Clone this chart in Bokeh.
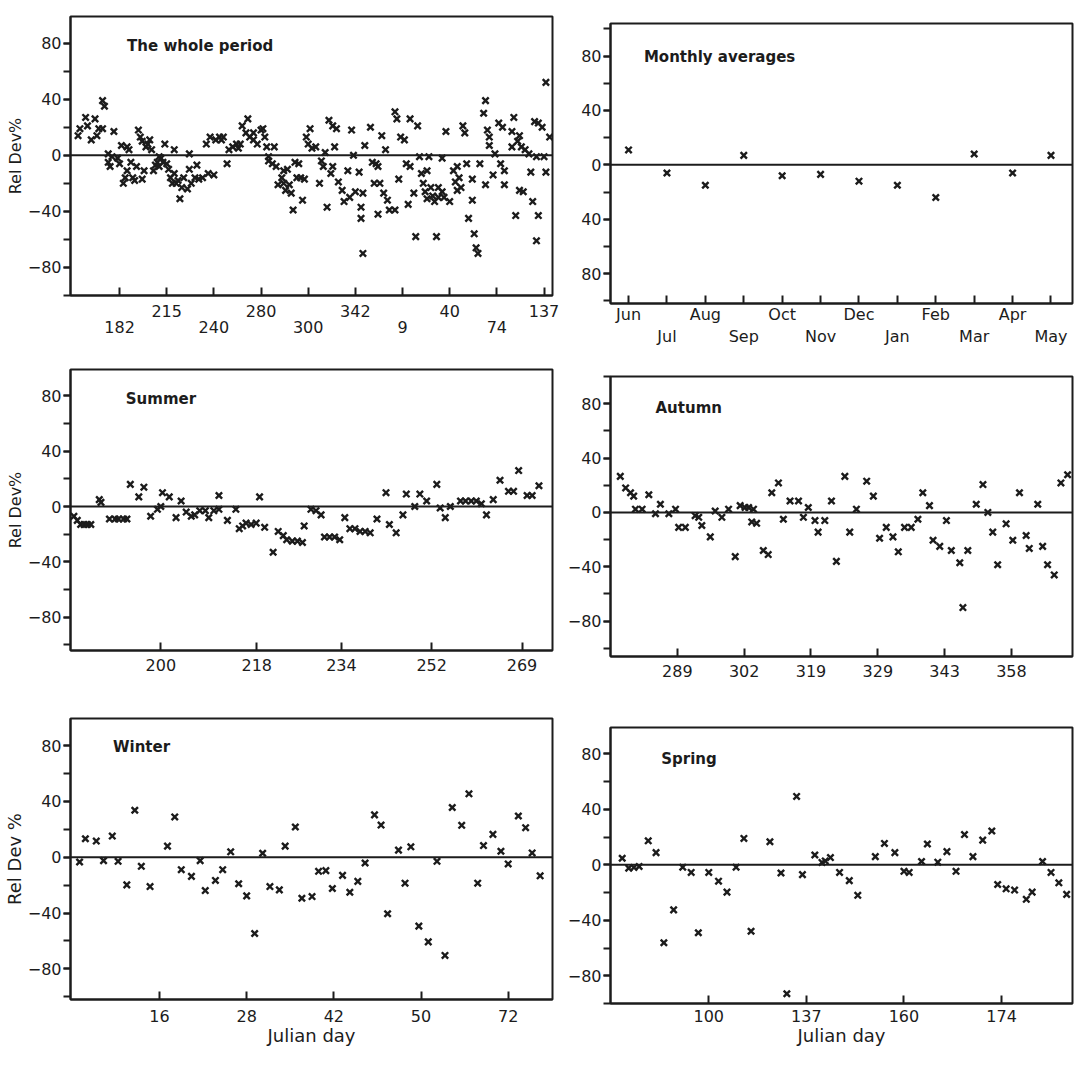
from bokeh.plotting import figure
from bokeh.models import Range1d, FixedTicker, SingleIntervalTicker, LinearAxis, Span, Label
from bokeh.layouts import column, row
from bokeh.embed import file_html
from bokeh.resources import INLINE

FONT = "DejaVu Sans"
INK = "#1c1c1c"

# ---------------- data ----------------
# The whole period (observation number, relative deviation %)
whole_x = [3, 4, 7, 8, 10, 12, 13, 14, 16, 17, 16, 19, 19, 20, 22, 21, 24, 25, 26, 27,
           28, 29, 29, 30, 31, 32, 33, 34, 35, 36, 37, 37, 38, 39, 40, 41, 42, 43, 44, 45,
           46, 46, 47, 48, 49, 50, 51, 52, 53, 54, 54, 55, 56, 57, 58, 59, 61, 62, 62, 63,
           65, 66, 67, 69, 71, 72, 73, 75, 76, 78, 79, 80, 82, 83, 85, 87, 88, 89, 90, 92,
           93, 94, 96, 96, 98, 100, 101, 102, 103, 104, 104, 106, 107, 108, 109, 111, 112, 112, 113, 114,
           115, 116, 117, 118, 119, 120, 121, 122, 123, 124, 125, 126, 127, 129, 131, 132, 133, 134, 135, 136,
           137, 138, 138, 139, 140, 141, 143, 144, 146, 147, 148, 149, 150, 152, 153, 153, 154, 154, 155, 158,
           159, 160, 161, 162, 162, 163, 164, 165, 166, 167, 168, 171, 171, 172, 173, 174, 176, 177, 178, 179,
           179, 181, 182, 183, 184, 185, 186, 187, 188, 188, 189, 190, 191, 192, 193, 194, 194, 196, 196, 197,
           198, 200, 202, 203, 204, 204, 205, 206, 207, 208, 209, 210, 212, 212, 213, 214, 215, 216, 218, 219,
           219, 220, 221, 221, 223, 224, 226, 227, 228, 229, 229, 233, 233, 234, 235, 236, 237, 237, 238, 239,
           240, 242, 243, 244, 245, 246, 246, 247, 247, 249, 250, 251, 251, 253]
whole_y = [14, 19, 27, 21, 11, 26, 14, 19, 39, 35, 19, 1, -5, -8, 17, -1, -2, -6, 7, -20,
           -16, 6, -11, 4, -5, -16, -18, -8, 18, 13, 10, -17, -11, 6, 8, 11, 4, -11, -7, -5,
           -1, -8, -2, -5, 8, -6, -10, -16, -20, 4, -13, -20, -18, -31, -23, -16, -24, 1, -10, -20,
           -16, -7, -17, -16, 8, -13, 13, -14, 11, 13, 11, 13, -6, 4, 6, 8, 5, 8, 21, 16,
           26, 13, 11, 16, 8, 18, 19, 13, 6, -1, -4, -6, 6, -8, -21, -16, -20, -11, -25, -10,
           -21, -27, -39, -5, -16, -6, -16, -32, -17, 13, 8, 19, 5, 6, -20, -4, -8, 2, -37, 25,
           -13, 21, -8, 6, 19, -19, -25, -33, -11, -30, 18, 0, -26, -12, -37, -45, -27, -70, 7, 20,
           -5, -20, -6, -42, -8, -20, 14, -27, 4, -32, -39, -39, 31, 26, -17, 13, 11, -6, -35, 26,
           -8, -27, -58, 21, -1, -13, -20, -26, -31, -11, -1, -23, -29, -33, -58, -30, -23, -26, -2, -30,
           17, -33, -11, -19, -25, -8, -16, -23, 21, 16, -6, -45, -32, -17, -56, -66, -70, -6, 30, 39,
           -21, 18, 7, 13, -14, 1, 23, -6, 20, -11, -21, 6, 17, 27, -43, 10, 14, -25, 6, -26,
           4, 1, -12, -33, 24, -1, -61, -43, 23, 20, -1, -12, 52, 13]
whole_ticks = [25, 50, 75, 100, 125, 150, 175, 200, 225, 250]
whole_labels = ["182", "215", "240", "280", "300", "342", "9", "40", "74", "137"]

# Monthly averages
months = ["Jun", "Jul", "Aug", "Sep", "Oct", "Nov", "Dec", "Jan", "Feb", "Mar", "Apr", "May"]
month_x = [0, 1, 2, 3, 4, 5, 6, 7, 8, 9, 10, 11]
month_y = [11, -6, -15, 7, -8, -7, -12, -15, -24, 8, -6, 7]

# Summer
summer_x = [0.6, 1.2, 1.8, 2.4, 3.0, 3.6, 5.1, 5.4, 6.9, 7.9, 8.5, 9.4, 10.0, 10.6, 12.1, 13.0,
            14.2, 15.4, 16.0, 16.3, 17.5, 18.7, 19.6, 20.5, 21.4, 22.0, 22.9, 23.9, 24.5, 25.4,
            26.3, 26.3, 27.8, 29.3, 29.9, 30.5, 31.1, 32.0, 32.9, 33.5, 34.4, 35.9, 36.8, 37.7,
            38.3, 39.3, 40.2, 41.1, 41.4, 42.6, 43.5, 44.4, 45.0, 45.9, 46.8, 47.7, 48.6, 49.5,
            50.4, 51.3, 52.2, 53.1, 54.3, 55.9, 56.5, 57.7, 58.9, 59.5, 61.0, 61.9, 63.1, 64.9,
            65.5, 66.4, 67.3, 69.1, 70.0, 71.0, 71.9, 72.8, 73.7, 74.9, 76.1, 77.6, 78.5, 79.4,
            80.9, 81.8, 83.0]
summer_y = [-7, -10, -13, -13, -13, -13, 5, 3, -9, -9, -9, -9, -9, 16, 7, 14,
            -7, -2, 0, 10, 7, -8, 4, -4, -7, -6, -3, -3, -8, -3,
            8, -2, -10, -2, -16, -14, -12, -13, -12, 7, -15, -33, -18, -21,
            -24, -25, -25, -26, -14, -2, -3, -6, -22, -22, -22, -24, -8, -16,
            -16, -18, -18, -19, -9, 10, -13, -19, -6, 9, 0, 9, 4, 16,
            -1, -8, 0, 4, 4, 4, 4, 2, -6, 5, 19, 11, 11, 26,
            8, 8, 15]
summer_ticks = [16, 33, 48, 64, 80]
summer_labels = ["200", "218", "234", "252", "269"]

# Autumn
autumn_x = [2.2, 3.4, 4.5, 5.2, 5.6, 7.1, 8.6, 10.1, 11.2, 13.1, 14.6, 15.3, 16.8, 19.0, 19.8,
            20.5, 22.4, 23.5, 25.0, 26.5, 28.0, 29.1, 30.2, 31.0, 31.7, 32.1, 32.8, 34.3, 35.4,
            36.2, 37.7, 38.8, 40.3, 42.2, 43.3, 44.4, 45.9, 46.6, 48.1, 49.6, 50.7, 52.6, 53.7,
            55.2, 57.5, 59.0, 60.4, 61.9, 63.4, 64.6, 66.0, 67.5, 69.0, 70.1, 71.6, 72.4, 73.9,
            75.4, 76.5, 78.4, 79.1, 80.2, 82.1, 83.6, 84.7, 85.8, 86.9, 88.8, 90.3, 91.8, 93.3,
            94.0, 95.9, 97.0, 98.1, 99.6, 101.1, 102.6]
autumn_y = [26.5, 18, 14.5, 12, 2.4, 2.4, 13, -1, 6, -1, 2.4, -11, -11, -2.4, -3.6,
            -9.6, -18, 1, -3.6, 2.4, -32.5, 5, 3.6, 3.6, -7, 2.4, -8, -28, -31,
            14.5, 21.7, -5, 8.4, 8.4, -3.6, 3.6, -6, -14.5, -6, 8.4, -36, 26.5, -14.5,
            2.4, 23, 12, -19, -11, -18, -29, -11, -11, -5, 14.5, 5, -20.5, -25,
            -6, -28, -37, -70, -28, 6, 20.5, 0, -14.5, -38.5, -8.4, -20.5, 14.5, -17,
            -26.5, 6, -25, -38.5, -46, 21.7, 27.7]
autumn_ticks = [15, 30, 45, 60, 75, 90]
autumn_labels = ["289", "302", "319", "329", "343", "358"]

# Winter
winter_x = [1.0, 1.8, 3.3, 4.3, 5.5, 6.3, 7.5, 8.6, 9.5, 10.7, 13.1, 14.1, 15.0, 16.4, 17.6,
            18.3, 19.7, 20.7, 21.8, 22.9, 24.0, 25.1, 26.2, 27.2, 28.5, 29.3, 30.7, 31.6, 33.0,
            33.9, 34.9, 35.8, 37.2, 38.2, 39.3, 40.3, 41.6, 42.5, 43.4, 44.9, 45.8, 46.6, 47.7,
            49.0, 50.2, 51.3, 52.3, 53.6, 54.6, 55.8, 56.6, 57.9, 59.0, 60.0, 61.4, 62.4, 63.3,
            64.4]
winter_y = [-3.4, 13.3, 11.6, -2.4, 15.2, -2.9, -19.8, 33.7, -6.5, -21.0, 8.0, 28.9, -8.9, -13.7, -2.4,
            -23.9, -16.6, -8.9, 3.9, -19.0, -27.7, -54.7, 2.9, -21.0, -23.4, 8.0, 21.7, -29.4, -28.2,
            -10.1, -9.6, -22.4, -13.0, -25.1, -17.3, -4.1, 30.4, 23.1, -40.5, 5.1, -18.6, 7.5, -49.4,
            -60.7, -2.9, -70.4, 35.7, 22.9, 45.5, -18.6, 8.4, 16.4, 4.3, -4.8, 29.6, 21.2, 3.1,
            -13.3]
winter_ticks = [12, 24, 36, 48, 60]
winter_labels = ["16", "28", "42", "50", "72"]

# Spring
spring_x = [1.7, 2.7, 3.5, 4.3, 5.7, 6.9, 8.1, 9.6, 11.0, 12.3, 13.4, 15.0, 16.5, 17.8, 19.2,
            20.4, 21.5, 24.4, 26.1, 27.0, 28.5, 29.4, 31.3, 32.4, 32.9, 33.7, 35.1, 36.6, 37.9,
            40.6, 42.0, 43.6, 45.0, 45.8, 47.7, 48.6, 50.2, 51.6, 53.0, 54.3, 55.6, 57.1, 58.5,
            59.4, 60.7, 62.0, 63.8, 64.7, 66.3, 67.6, 68.8, 70.0]
spring_y = [4.7, -2.4, -1.9, -1.2, 17.3, 8.8, -56.2, -32.5, -1.7, -5.5, -49, -5.5, -11.8, -19.7, -1.7,
            19, -47.9, 16.6, -5.9, -93, 49.3, -7.1, 7.1, 1.7, 2.8, 5.2, -5.5, -11.4, -22,
            5.9, 15.4, 8.8, -4.7, -5.5, 2.4, 15, 1.9, 9.5, -4.7, 21.8, 5.9, 17.8, 24.4,
            -14.2, -17.3, -18.2, -24.9, -19.7, 2.4, -5.5, -13, -21.3]
spring_ticks = [15, 30, 45, 60]
spring_labels = ["100", "137", "160", "174"]

TICK_SIZE = "16px"


def make_panel(width, height, borders, xr, yr, xs, ys, title, title_xy,
               ticks, labels, stagger=False, ylabel=None, xlabel=None,
               y_overrides=None, ylabel_size="16px", upper_first=False,
               x_standoff=8, low_standoff=2):
    bl, br, bt, bb = borders
    p = figure(width=width, height=height, output_backend="svg", toolbar_location=None,
               x_range=Range1d(*xr), y_range=Range1d(*yr),
               min_border_left=bl, min_border_right=br, min_border_top=bt, min_border_bottom=bb)
    p.grid.visible = False
    p.outline_line_color = INK
    p.outline_line_width = 2
    p.background_fill_color = "white"
    p.border_fill_color = "white"

    # y axis
    ya = p.yaxis[0]
    ya.ticker = SingleIntervalTicker(interval=40, num_minor_ticks=2)
    ya.axis_line_color = INK
    ya.axis_line_width = 2
    ya.major_tick_line_color = INK
    ya.major_tick_line_width = 2
    ya.minor_tick_line_color = INK
    ya.minor_tick_line_width = 2
    ya.major_tick_in = 0
    ya.major_tick_out = 7
    ya.minor_tick_in = 0
    ya.minor_tick_out = 7
    ya.major_label_text_font = FONT
    ya.major_label_text_font_size = TICK_SIZE
    ya.major_label_text_color = INK
    ya.major_label_standoff = 2
    if y_overrides:
        ya.major_label_overrides = y_overrides
    if ylabel:
        ya.axis_label = ylabel
        ya.axis_label_text_font = FONT
        ya.axis_label_text_font_size = ylabel_size
        ya.axis_label_text_font_style = "normal"
        ya.axis_label_text_color = INK
        ya.axis_label_standoff = 0

    # x axis
    xa = p.xaxis[0]
    xa.ticker = FixedTicker(ticks=ticks, minor_ticks=[])
    xa.axis_line_color = INK
    xa.axis_line_width = 2
    xa.major_tick_line_color = INK
    xa.major_tick_line_width = 2
    xa.major_tick_in = 8
    xa.major_tick_out = 0
    xa.major_label_text_font = FONT
    xa.major_label_text_font_size = TICK_SIZE
    xa.major_label_text_color = INK
    xa.major_label_standoff = x_standoff
    if stagger:
        keep = 0 if upper_first else 1
        upper = {t: (lab if i % 2 == keep else "") for i, (t, lab) in enumerate(zip(ticks, labels))}
        xa.major_label_overrides = upper
        low_ticks = [t for t in ticks if upper[t] == ""]
        low_over = {t: lab for t, lab in zip(ticks, labels) if upper[t] == ""}
        xb = LinearAxis(ticker=FixedTicker(ticks=low_ticks, minor_ticks=[]),
                        major_label_overrides=low_over)
        xb.axis_line_color = None
        xb.major_tick_line_color = None
        xb.major_tick_in = 0
        xb.major_tick_out = 0
        xb.major_label_standoff = low_standoff
        xb.major_label_text_font = FONT
        xb.major_label_text_font_size = TICK_SIZE
        xb.major_label_text_color = INK
        p.add_layout(xb, "below")
    else:
        xa.major_label_overrides = {t: lab for t, lab in zip(ticks, labels)}
    if xlabel:
        xa.axis_label = xlabel
        xa.axis_label_text_font = FONT
        xa.axis_label_text_font_size = "18px"
        xa.axis_label_text_font_style = "normal"
        xa.axis_label_text_color = INK
        xa.axis_label_standoff = 0

    p.add_layout(Span(location=0, dimension="width", line_color=INK, line_width=2))
    p.scatter(xs, ys, marker="x", size=9, line_width=2.4, line_color=INK)
    p.add_layout(Label(x=title_xy[0], y=title_xy[1], text=title, text_font=FONT,
                       text_font_size="15px", text_font_style="bold", text_color=INK,
                       text_baseline="middle", text_align="left"))
    return p


LW = 564
RW = 512

p1 = make_panel(LW, 345, (69, 12, 16, 50), (-1, 254.5), (-100, 99), whole_x, whole_y,
                "The whole period", (29, 78), whole_ticks, whole_labels, stagger=True,
                ylabel="Rel Dev%", x_standoff=9, low_standoff=1)
p3 = make_panel(LW, 349, (69, 12, 24, 44), (0, 85.4), (-104, 99), summer_x, summer_y,
                "Summer", (9.8, 78), summer_ticks, summer_labels, ylabel="Rel Dev%")
p5 = make_panel(LW, 355, (69, 12, 24, 50), (-0.25, 66.1), (-102, 99.5), winter_x, winter_y,
                "Winter", (5.6, 79), winter_ticks, winter_labels, ylabel="Rel Dev %",
                xlabel="Julian day", ylabel_size="18px", x_standoff=10)

p2 = make_panel(RW, 352, (45, 4, 23, 49), (-0.47, 11.56), (-102, 104), month_x, month_y,
                "Monthly averages", (0.4, 79), month_x, months, stagger=True,
                y_overrides={-40: "40", -80: "80"}, upper_first=True,
                x_standoff=1, low_standoff=0)
p4 = make_panel(RW, 342, (45, 4, 24, 38), (0, 103.7), (-106, 100), autumn_x, autumn_y,
                "Autumn", (10.1, 77), autumn_ticks, autumn_labels)
p6 = make_panel(RW, 355, (45, 4, 33, 46), (-0.1, 70.9), (-100, 99), spring_x, spring_y,
                "Spring", (7.7, 76), spring_ticks, spring_labels, xlabel="Julian day",
                x_standoff=6)

left = column(p1, p3, p5, spacing=0)
right = column(p2, p4, p6, spacing=0)
layout = row(left, right, spacing=0)
open("out.html", "w").write(file_html(layout, INLINE))
